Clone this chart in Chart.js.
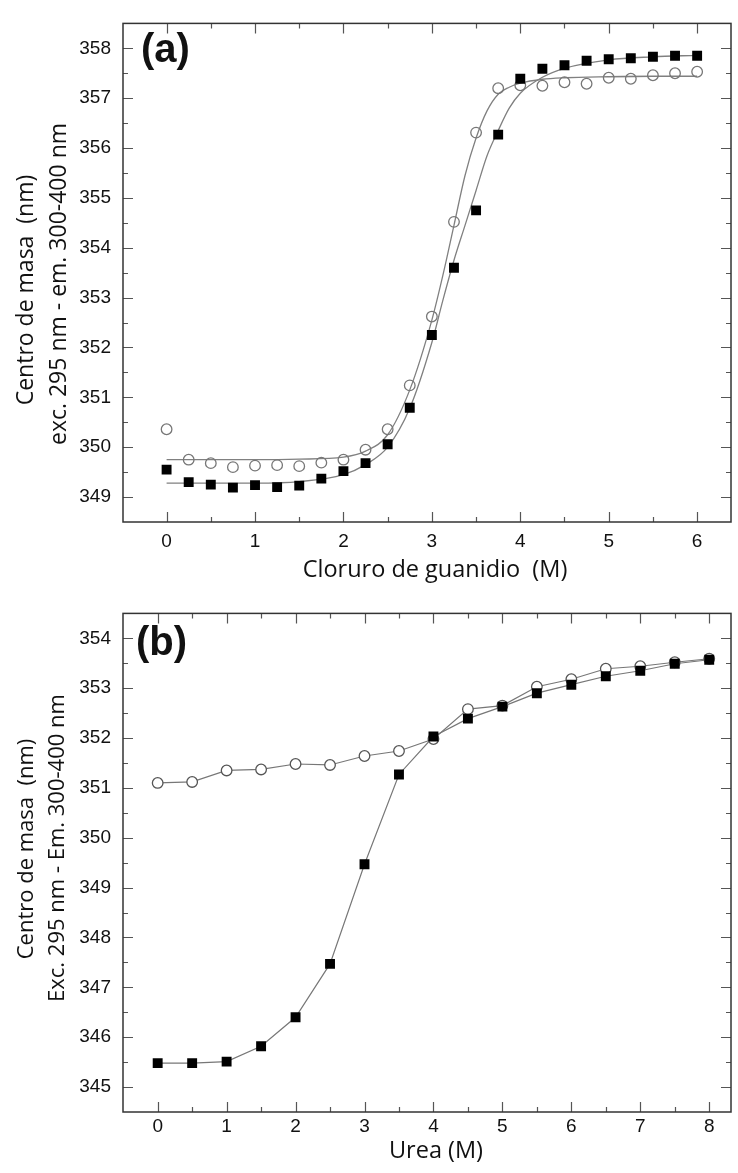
<!DOCTYPE html>
<html>
<head>
<meta charset="utf-8">
<script src="https://cdn.jsdelivr.net/npm/chart.js@4.4.0/dist/chart.umd.min.js"></script>
<style>
  body { margin: 0; background: #fff; }
  #wrap { position: relative; width: 738px; height: 1173px; }
  canvas { position: absolute; left: 0; }
</style>
</head>
<body>
<div id="wrap">
  <canvas id="chartA" width="738" height="590" style="top:0"></canvas>
  <canvas id="chartB" width="738" height="583" style="top:590px"></canvas>
</div>
<script>
// (a) guanidinium chloride series
const gdmConc = [0, 0.25, 0.5, 0.75, 1, 1.25, 1.5, 1.75, 2, 2.25, 2.5, 2.75, 3, 3.25, 3.5, 3.75, 4, 4.25, 4.5, 4.75, 5, 5.25, 5.5, 5.75, 6];
const gdmSquares = [349.55, 349.30, 349.25, 349.19, 349.24, 349.20, 349.23, 349.37, 349.52, 349.68, 350.06, 350.79, 352.25, 353.60, 354.75, 356.27, 357.39, 357.59, 357.66, 357.75, 357.78, 357.80, 357.83, 357.85, 357.85];
const gdmCircles = [350.36, 349.75, 349.68, 349.60, 349.63, 349.64, 349.62, 349.69, 349.75, 349.95, 350.36, 351.24, 352.62, 354.52, 356.31, 357.20, 357.26, 357.25, 357.32, 357.29, 357.41, 357.39, 357.46, 357.50, 357.53];
// fitted curves
const gdmFitConc = [0, 1, 1.5, 2, 2.25, 2.5, 2.75, 3, 3.125, 3.25, 3.375, 3.5, 3.625, 3.75, 3.875, 4, 4.25, 4.5, 5, 5.5, 6];
const gdmFitSquares = [349.28, 349.28, 349.31, 349.45, 349.65, 350.00, 350.78, 352.10, 352.95, 353.75, 354.45, 355.15, 355.85, 356.35, 356.80, 357.10, 357.42, 357.60, 357.77, 357.83, 357.86];
const gdmFitCircles = [349.75, 349.75, 349.76, 349.80, 349.92, 350.25, 351.15, 352.55, 353.45, 354.45, 355.45, 356.20, 356.75, 357.08, 357.22, 357.30, 357.38, 357.41, 357.43, 357.44, 357.44];
const gdmXTicks = [0, 1, 2, 3, 4, 5, 6];
const gdmYTicks = [349, 350, 351, 352, 353, 354, 355, 356, 357, 358];

// (b) urea series
const ureaConc = [0, 0.5, 1, 1.5, 2, 2.5, 3, 3.5, 4, 4.5, 5, 5.5, 6, 6.5, 7, 7.5, 8];
const ureaSquares = [345.48, 345.48, 345.51, 345.82, 346.40, 347.47, 349.47, 351.27, 352.03, 352.39, 352.63, 352.90, 353.07, 353.24, 353.35, 353.49, 353.57];
const ureaCircles = [351.10, 351.12, 351.35, 351.37, 351.48, 351.46, 351.64, 351.74, 351.98, 352.58, 352.65, 353.03, 353.18, 353.39, 353.44, 353.52, 353.59];
const ureaXTicks = [0, 1, 2, 3, 4, 5, 6, 7, 8];
const ureaYTicks = [345, 346, 347, 348, 349, 350, 351, 352, 353, 354];

const pts = (xs, ys) => xs.map((x, i) => ({ x: x, y: ys[i] }));
const tickFont = { family: "'Liberation Sans', Arial, sans-serif", size: 19 };
const titleFamily = "'Open Sans', 'Noto Sans', sans-serif";

// frame with inward ticks on all four sides, plus titles
const framePlugin = {
  id: 'frame',
  beforeDatasetsDraw(chart) {
    const { ctx, chartArea: a, scales: { x, y } } = chart;
    const marks = (scale) => {
      const v = scale.ticks.map(t => t.value);
      const out = v.map(t => [t, 10]);
      for (let i = 0; i < v.length - 1; i++) out.push([(v[i] + v[i + 1]) / 2, 5]);
      return out;
    };
    ctx.save();
    ctx.strokeStyle = '#555';
    ctx.lineWidth = 1.2;
    ctx.beginPath();
    marks(x).forEach(([v, len]) => {
      const px = Math.round(x.getPixelForValue(v)) + 0.5;
      ctx.moveTo(px, a.bottom); ctx.lineTo(px, a.bottom - len);
      ctx.moveTo(px, a.top); ctx.lineTo(px, a.top + len);
    });
    marks(y).forEach(([v, len]) => {
      const py = Math.round(y.getPixelForValue(v)) + 0.5;
      ctx.moveTo(a.left, py); ctx.lineTo(a.left + len, py);
      ctx.moveTo(a.right, py); ctx.lineTo(a.right - len, py);
    });
    ctx.stroke();
    ctx.strokeStyle = '#333';
    ctx.lineWidth = 1.5;
    ctx.strokeRect(a.left, a.top, a.right - a.left, a.bottom - a.top);
    ctx.restore();
  },
  afterDraw(chart, args, o) {
    const { ctx } = chart;
    ctx.save();
    ctx.fillStyle = '#111';
    ctx.textBaseline = 'alphabetic';
    // panel letter
    ctx.font = "bold 40px 'Liberation Sans', Arial, sans-serif";
    ctx.textAlign = 'left';
    ctx.fillText(o.letter, o.letterX, o.letterY);
    // x title
    ctx.textAlign = 'center';
    ctx.font = o.xTitleSize + 'px ' + titleFamily;
    ctx.fillText(o.xTitle, o.xTitleX, o.xTitleY);
    // y title, two rotated lines
    ctx.font = o.yTitleSize + 'px ' + titleFamily;
    o.yTitle.forEach((line, i) => {
      ctx.save();
      ctx.translate(o.yTitleX[i], o.yTitleY[i]);
      ctx.rotate(-Math.PI / 2);
      ctx.fillText(line, 0, 0);
      ctx.restore();
    });
    ctx.restore();
  }
};

function axes(xmin, xmax, ymin, ymax, xTicks, yTicks, xHeight, xPad) {
  return {
    x: {
      type: 'linear', min: xmin, max: xmax,
      grid: { display: false, drawTicks: false }, border: { display: false },
      ticks: { font: tickFont, color: '#111', padding: xPad, maxRotation: 0 },
      afterBuildTicks: s => { s.ticks = xTicks.map(v => ({ value: v })); },
      afterFit: s => { s.height = xHeight; }
    },
    y: {
      type: 'linear', min: ymin, max: ymax,
      grid: { display: false, drawTicks: false }, border: { display: false },
      ticks: { font: tickFont, color: '#111', padding: 12 },
      afterBuildTicks: s => { s.ticks = yTicks.map(v => ({ value: v })); },
      afterFit: s => { s.width = 123; }
    }
  };
}

new Chart(document.getElementById('chartA'), {
  type: 'scatter',
  data: {
    datasets: [
      { data: pts(gdmConc, gdmSquares), pointStyle: 'rect', pointRadius: 7, pointBackgroundColor: '#000', pointBorderColor: '#000', pointBorderWidth: 0, order: 0 },
      { data: pts(gdmConc, gdmCircles), pointStyle: 'circle', pointRadius: 5.3, pointBackgroundColor: 'rgba(0,0,0,0)', pointBorderColor: '#777', pointBorderWidth: 1.3, order: 1 },
      { data: pts(gdmFitConc, gdmFitSquares), showLine: true, pointRadius: 0, borderColor: '#808080', borderWidth: 1.3, tension: 0.4, cubicInterpolationMode: 'monotone', order: 2 },
      { data: pts(gdmFitConc, gdmFitCircles), showLine: true, pointRadius: 0, borderColor: '#808080', borderWidth: 1.3, tension: 0.4, cubicInterpolationMode: 'monotone', order: 3 }
    ]
  },
  options: {
    responsive: false, animation: false,
    layout: { padding: { top: 14, right: 1, bottom: 0, left: 0 } },
    scales: axes(-0.493, 6.383, 348.5, 358.5, gdmXTicks, gdmYTicks, 68, 8),
    plugins: {
      legend: { display: false }, tooltip: { enabled: false },
      frame: {
        letter: '(a)', letterX: 141, letterY: 62,
        xTitle: 'Cloruro de guanidio  (M)', xTitleX: 435, xTitleY: 577, xTitleSize: 23.5,
        yTitle: ['Centro de masa  (nm)', 'exc. 295 nm - em. 300-400 nm'], yTitleSize: 23,
        yTitleX: [33, 66], yTitleY: [290, 284]
      }
    }
  },
  plugins: [framePlugin]
});

new Chart(document.getElementById('chartB'), {
  type: 'scatter',
  data: {
    datasets: [
      { data: pts(ureaConc, ureaSquares), showLine: true, borderColor: '#777', borderWidth: 1.2, pointStyle: 'rect', pointRadius: 7, pointBackgroundColor: '#000', pointBorderColor: '#000', pointBorderWidth: 0, order: 0 },
      { data: pts(ureaConc, ureaCircles), showLine: true, borderColor: '#777', borderWidth: 1.2, pointStyle: 'circle', pointRadius: 5.3, pointBackgroundColor: '#fff', pointBorderColor: '#555', pointBorderWidth: 1.3, order: 1 }
    ]
  },
  options: {
    responsive: false, animation: false,
    layout: { padding: { top: 13, right: 1, bottom: 0, left: 0 } },
    scales: axes(-0.503, 8.316, 344.5, 354.5, ureaXTicks, ureaYTicks, 61, 3),
    plugins: {
      legend: { display: false }, tooltip: { enabled: false },
      frame: {
        letter: '(b)', letterX: 136, letterY: 65,
        xTitle: 'Urea (M)', xTitleX: 436, xTitleY: 568, xTitleSize: 23.5,
        yTitle: ['Centro de masa  (nm)', 'Exc. 295 nm - Em. 300-400 nm'], yTitleSize: 22,
        yTitleX: [33, 64], yTitleY: [259, 258]
      }
    }
  },
  plugins: [framePlugin]
});
</script>
</body>
</html>
